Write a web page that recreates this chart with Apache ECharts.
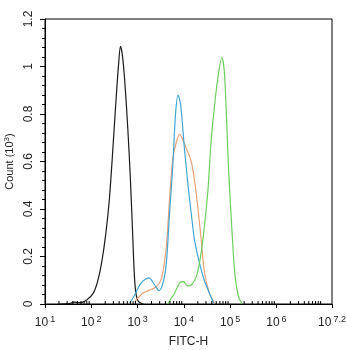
<!DOCTYPE html>
<html>
<head>
<meta charset="utf-8">
<script src="https://cdn.jsdelivr.net/npm/echarts@6/dist/echarts.min.js"></script>
<style>
  html, body { margin: 0; padding: 0; background: #fff; }
  #chart { width: 346px; height: 350px; }
</style>
</head>
<body>
<div id="chart"></div>
<script>
// x values are log10(FITC-H), y values are Count in 10^3
const xMin = 1
const xMax = 7.2
const yTickLabels = ['0', '0.2', '0.4', '0.6', '0.8', '1', '1.2']
const minorMultipliers = [2, 3, 4, 5, 6, 7, 8, 9]

const controlCurve = [
  [1.3, 0], [1.55, 0.003], [1.61, 0.008], [1.75, 0.006], [1.9, 0.017], [2.04, 0.045],
  [2.13, 0.09], [2.22, 0.17], [2.31, 0.29], [2.39, 0.44], [2.47, 0.665], [2.54, 0.876],
  [2.59, 1.01], [2.63, 1.085], [2.67, 1.05], [2.72, 0.946], [2.79, 0.735], [2.845, 0.524],
  [2.89, 0.313], [2.925, 0.144], [2.96, 0.05], [3.02, 0.01], [3.12, 0]
]
const blueCurve = [
  [2.83, 0.005], [2.9, 0.025], [3.08, 0.089], [3.245, 0.11], [3.37, 0.08], [3.46, 0.056],
  [3.55, 0.089], [3.62, 0.17], [3.69, 0.38], [3.76, 0.58], [3.82, 0.8],
  [3.875, 0.88], [3.93, 0.84], [4.01, 0.66], [4.09, 0.5], [4.16, 0.38], [4.23, 0.27],
  [4.34, 0.17], [4.44, 0.1], [4.55, 0.046], [4.64, 0.004]
]
const orangeCurve = [
  [2.94, 0.01], [3.12, 0.046], [3.3, 0.062], [3.42, 0.075], [3.52, 0.11], [3.62, 0.24],
  [3.69, 0.44], [3.76, 0.61], [3.835, 0.68], [3.91, 0.714], [3.98, 0.69], [4.085, 0.64],
  [4.16, 0.6], [4.23, 0.52], [4.3, 0.41], [4.37, 0.28], [4.44, 0.14], [4.55, 0.046],
  [4.66, 0.004]
]
const greenCurve = [
  [3.65, 0], [3.8, 0.046], [3.91, 0.089], [3.99, 0.094], [4.085, 0.076], [4.16, 0.08],
  [4.27, 0.115], [4.36, 0.2], [4.44, 0.32], [4.52, 0.48], [4.59, 0.69], [4.66, 0.83],
  [4.73, 0.946], [4.82, 1.038], [4.875, 0.976], [4.925, 0.765], [4.97, 0.55], [5.03, 0.34],
  [5.1, 0.13], [5.18, 0.03], [5.26, 0]
]

// log-spaced minor ticks on the x axis
const minorTicks = []
for (let d = Math.floor(xMin); d < xMax; d++) {
  minorMultipliers.forEach(m => {
    const v = d + Math.log10(m)
    if (v < xMax) minorTicks.push([v, 0])
  })
}

const chart = echarts.init(document.getElementById('chart'), null, { renderer: 'canvas' })

function curve(data, color) {
  return {
    type: 'line',
    data,
    smooth: 0.3,
    showSymbol: false,
    silent: true,
    lineStyle: { color, width: 1.2 },
    z: 3,
  }
}

chart.setOption({
  animation: false,
  backgroundColor: '#fff',
  grid: {
    left: 45, right: 14, top: 19, bottom: 46,
    containLabel: false,
    outerBoundsMode: 'none',
    show: true,
    borderColor: '#000',
    borderWidth: 1,
  },
  xAxis: {
    type: 'value',
    min: xMin,
    max: xMax,
    interval: 1,
    name: 'FITC-H',
    nameLocation: 'middle',
    nameGap: 32,
    nameTextStyle: { color: '#222', fontSize: 12, fontFamily: 'Liberation Sans' },
    axisLine: { lineStyle: { color: '#000', width: 1 } },
    axisTick: { show: true, length: 4, lineStyle: { color: '#000' } },
    splitLine: { show: false },
    axisLabel: {
      margin: 11,
      showMaxLabel: true,
      formatter: v => '{b|10}{s|' + (Math.round(v * 10) / 10) + '}',
      rich: {
        b: { fontSize: 12, color: '#222', fontFamily: 'Liberation Sans' },
        s: { fontSize: 9, color: '#222', fontFamily: 'Liberation Sans', padding: [0, 0, 7, 2] },
      },
    },
  },
  yAxis: {
    type: 'value',
    min: 0,
    max: 1.2,
    interval: 0.2,
    name: '{t|Count (10}{s|3}{t|)}',
    nameLocation: 'middle',
    nameRotate: 90,
    nameGap: 22,
    nameTextStyle: {
      rich: {
        t: { fontSize: 11, color: '#222', fontFamily: 'Liberation Sans' },
        s: { fontSize: 8, color: '#222', fontFamily: 'Liberation Sans', padding: [0, 0, 6, 0] },
      },
    },
    axisLine: { show: true, lineStyle: { color: '#000', width: 1 } },
    axisTick: { show: true, length: 5, lineStyle: { color: '#000' } },
    minorTick: { show: true, splitNumber: 5, length: 3, lineStyle: { color: '#000' } },
    splitLine: { show: false },
    axisLabel: {
      rotate: 90,
      margin: 10,
      color: '#222',
      fontSize: 12,
      fontFamily: 'Liberation Sans',
      formatter: v => yTickLabels[Math.round(v / 0.2)],
    },
  },
  series: [
    {
      type: 'custom',
      silent: true,
      data: minorTicks,
      encode: { x: 0, y: 1 },
      renderItem(params, api) {
        const p = api.coord([api.value(0), 0])
        return {
          type: 'line',
          shape: { x1: p[0], y1: p[1], x2: p[0], y2: p[1] - 3 },
          style: { stroke: '#000', lineWidth: 1 },
        }
      },
      z: 4,
    },
    curve(controlCurve, '#1a1a1a'),
    curve(orangeCurve, '#e8a274'),
    curve(blueCurve, '#3ea6d6'),
    curve(greenCurve, '#6bd05c'),
  ],
})
</script>
</body>
</html>
